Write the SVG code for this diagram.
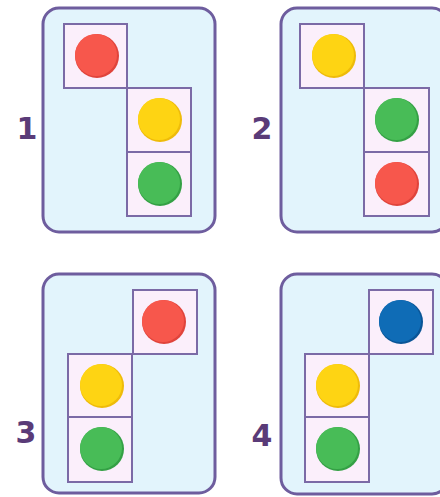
<svg xmlns="http://www.w3.org/2000/svg" width="440" height="497" viewBox="0 0 440 497">
<style>
.panel{fill:#e2f4fc;stroke:#6e5d9e;stroke-width:3}
.cell{fill:#fbeffb;stroke:#7b6aa6;stroke-width:2}
.lbl{font-family:"DejaVu Sans",sans-serif;font-weight:bold;font-size:30px;fill:#5a3b78;text-anchor:middle}
.r{fill:#f7574c}.rs{fill:#e0443c}
.y{fill:#fed413}.ys{fill:#eebb0a}
.g{fill:#48bc57}.gs{fill:#34a045}
.b{fill:#0f6cb6}.bs{fill:#0a5597}
</style>
<rect width="440" height="497" fill="#ffffff"/>
<g id="panel1">
<rect class="panel" x="43" y="8" width="172" height="224" rx="16"/>
<rect class="cell" x="64" y="24" width="63" height="64"/>
<rect class="cell" x="127" y="88" width="64" height="64"/>
<rect class="cell" x="127" y="152" width="64" height="64"/>
<circle class="rs" cx="97" cy="56" r="22"/><circle class="r" cx="96" cy="55" r="21"/>
<circle class="ys" cx="160" cy="120" r="22"/><circle class="y" cx="159" cy="119" r="21"/>
<circle class="gs" cx="160" cy="184" r="22"/><circle class="g" cx="159" cy="183" r="21"/>
<text class="lbl" x="27" y="139">1</text>
</g>
<g id="panel2">
<rect class="panel" x="281" y="8" width="167" height="224" rx="16"/>
<rect class="cell" x="300" y="24" width="64" height="64"/>
<rect class="cell" x="364" y="88" width="65" height="64"/>
<rect class="cell" x="364" y="152" width="65" height="64"/>
<circle class="ys" cx="334" cy="56" r="22"/><circle class="y" cx="333" cy="55" r="21"/>
<circle class="gs" cx="397" cy="120" r="22"/><circle class="g" cx="396" cy="119" r="21"/>
<circle class="rs" cx="397" cy="184" r="22"/><circle class="r" cx="396" cy="183" r="21"/>
<text class="lbl" x="262" y="139">2</text>
</g>
<g id="panel3">
<rect class="panel" x="43" y="274" width="172" height="219" rx="16"/>
<rect class="cell" x="133" y="290" width="64" height="64"/>
<rect class="cell" x="68" y="354" width="64" height="63"/>
<rect class="cell" x="68" y="417" width="64" height="65"/>
<circle class="rs" cx="164" cy="322" r="22"/><circle class="r" cx="163" cy="321" r="21"/>
<circle class="ys" cx="102" cy="386" r="22"/><circle class="y" cx="101" cy="385" r="21"/>
<circle class="gs" cx="102" cy="449" r="22"/><circle class="g" cx="101" cy="448" r="21"/>
<text class="lbl" x="26" y="443">3</text>
</g>
<g id="panel4">
<rect class="panel" x="281" y="274" width="167" height="220" rx="16"/>
<rect class="cell" x="369" y="290" width="64" height="64"/>
<rect class="cell" x="305" y="354" width="64" height="63"/>
<rect class="cell" x="305" y="417" width="64" height="65"/>
<circle class="bs" cx="401" cy="322" r="22"/><circle class="b" cx="400" cy="321" r="21"/>
<circle class="ys" cx="338" cy="386" r="22"/><circle class="y" cx="337" cy="385" r="21"/>
<circle class="gs" cx="338" cy="449" r="22"/><circle class="g" cx="337" cy="448" r="21"/>
<text class="lbl" x="262" y="446">4</text>
</g>
</svg>
